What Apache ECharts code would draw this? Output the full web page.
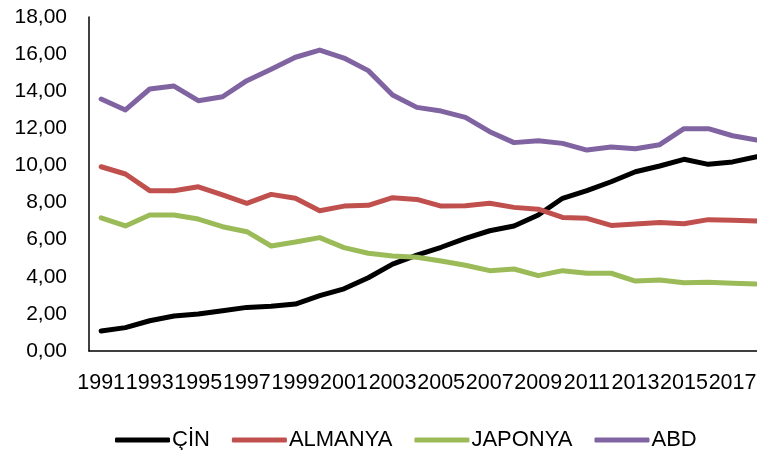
<!DOCTYPE html>
<html>
<head>
<meta charset="utf-8">
<script src="https://cdn.jsdelivr.net/npm/echarts@6/dist/echarts.min.js"></script>
<style>
html,body{margin:0;padding:0;background:#fff;}
#chart{width:757px;height:450px;}
</style>
</head>
<body>
<div id="chart"></div>
<script>
var years = ['1991','1992','1993','1994','1995','1996','1997','1998','1999','2000','2001','2002','2003','2004','2005','2006','2007','2008','2009','2010','2011','2012','2013','2014','2015','2016','2017','2018'];
var cin = [1.08,1.26,1.63,1.89,1.99,2.17,2.35,2.41,2.53,2.98,3.35,3.95,4.68,5.17,5.59,6.07,6.48,6.74,7.33,8.23,8.64,9.12,9.66,9.97,10.33,10.06,10.19,10.47];
var almanya = [9.93,9.54,8.64,8.64,8.85,8.41,7.96,8.44,8.23,7.56,7.81,7.85,8.26,8.17,7.81,7.83,7.96,7.74,7.64,7.20,7.15,6.77,6.84,6.93,6.86,7.08,7.04,7.01];
var japonya = [7.18,6.74,7.33,7.33,7.11,6.70,6.43,5.66,5.87,6.11,5.57,5.27,5.12,5.05,4.85,4.62,4.33,4.42,4.06,4.33,4.19,4.19,3.77,3.83,3.68,3.70,3.65,3.61];
var abd = [13.58,12.99,14.12,14.28,13.49,13.70,14.57,15.18,15.83,16.22,15.79,15.11,13.80,13.13,12.93,12.59,11.82,11.23,11.33,11.19,10.83,10.99,10.90,11.12,11.98,11.98,11.60,11.37];
var seriesNames = ['ÇİN','ALMANYA','JAPONYA','ABD'];
var colors = ['#000000','#C0504D','#9BBB59','#8064A2'];
var yMin = 0, yMax = 18, yStep = 2;

var font = 'Liberation Sans';
var chart = echarts.init(document.getElementById('chart'));
var data = [cin, almanya, japonya, abd];
chart.setOption({
  animation: false,
  backgroundColor: '#ffffff',
  grid: {left: 89, top: 17, width: 680, height: 334, containLabel: false, outerBoundsMode: 'none'},
  legend: {
    data: seriesNames.map(function (n) { return {name: n, icon: 'roundRect'}; }),
    left: 110, top: 424,
    itemWidth: 55, itemHeight: 5, itemGap: 22,
    textStyle: {fontFamily: font, fontSize: 22, color: '#000', padding: [0,0,0,-3]}
  },
  xAxis: {
    type: 'category',
    data: years,
    boundaryGap: true,
    axisLine: {lineStyle: {color: '#000', width: 1.5}},
    axisTick: {show: false},
    axisLabel: {interval: 1, margin: 21, fontFamily: font, fontSize: 21.5, color: '#000'},
    splitLine: {show: false}
  },
  yAxis: {
    type: 'value',
    min: yMin, max: yMax, interval: yStep,
    axisLine: {show: true, lineStyle: {color: '#000', width: 1.5}},
    axisTick: {show: false},
    splitLine: {show: false},
    axisLabel: {
      margin: 22, fontFamily: font, fontSize: 21, color: '#000',
      formatter: function (v) { return v.toFixed(2).replace('.', ','); }
    }
  },
  series: seriesNames.map(function (n, i) {
    return {
      name: n, type: 'line', data: data[i],
      symbol: 'none', smooth: false,
      lineStyle: {color: colors[i], width: 5, cap: 'round', join: 'round'},
      itemStyle: {color: colors[i]}
    };
  })
});
</script>
</body>
</html>
